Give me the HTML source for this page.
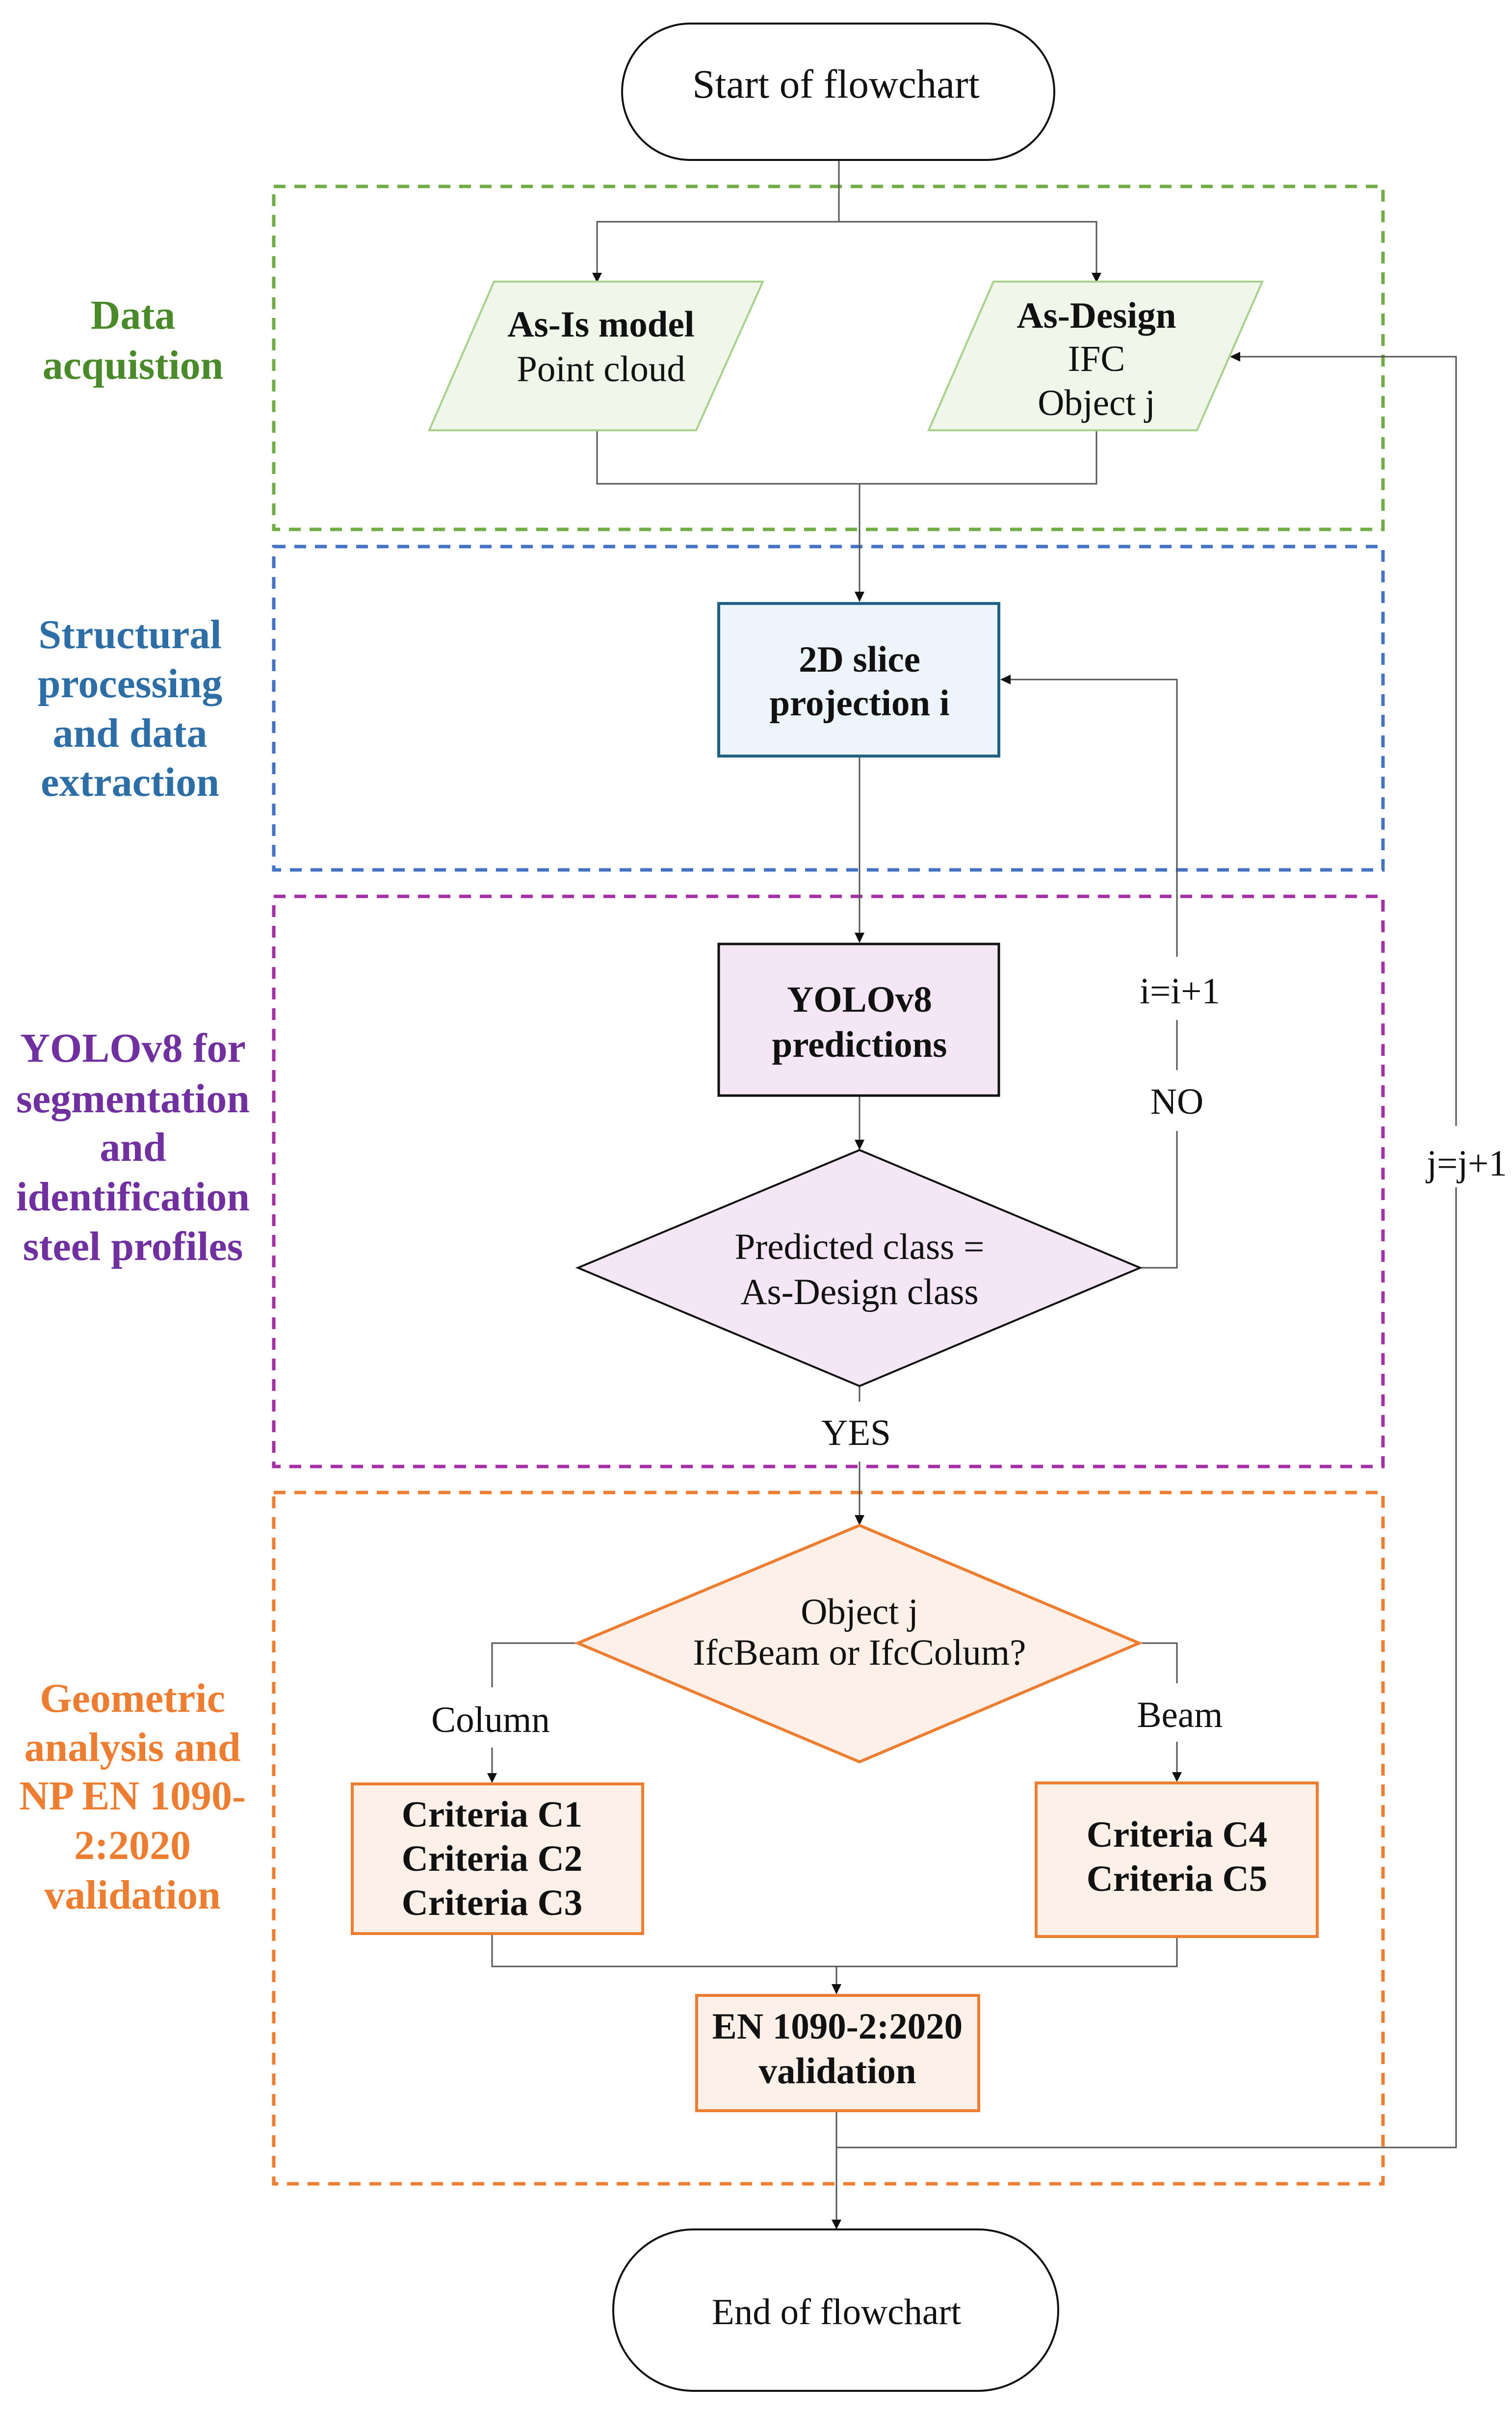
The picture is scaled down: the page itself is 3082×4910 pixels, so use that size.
<!DOCTYPE html>
<html><head><meta charset="utf-8"><style>
html,body{margin:0;padding:0;background:#fff}
svg{display:block}
text{font-family:"Liberation Serif",serif}
</style></head><body>
<svg width="3082" height="4910" viewBox="0 0 3082 4910" xmlns="http://www.w3.org/2000/svg">
<!-- dashed group boxes -->
<g fill="none" stroke-width="7" stroke-dasharray="24 18">
<rect x="558" y="380" width="2261" height="699" stroke="#70ad47"/>
<rect x="558" y="1114" width="2261" height="659" stroke="#4472c4"/>
<rect x="558" y="1827" width="2261" height="1162" stroke="#a530a5"/>
<rect x="558" y="3042" width="2261" height="1409" stroke="#ed7d31"/>
</g>

<!-- connectors -->
<g fill="none" stroke="#555" stroke-width="3">
<polyline points="1710,326 1710,452"/>
<polyline points="1217,560 1217,452 2235,452 2235,560"/>
<polyline points="1217,877 1217,986 2235,986 2235,877"/>
<polyline points="1752,986 1752,1212"/>
<polyline points="1752,1543 1752,1906"/>
<polyline points="1752,2234 1752,2328"/>
<polyline points="2324,2584 2399,2584 2399,2305"/>
<polyline points="2399,2181 2399,2079"/>
<polyline points="2399,1950 2399,1385 2055,1385"/>
<polyline points="1752,2825 1752,2857"/>
<polyline points="1752,2979 1752,3094"/>
<polyline points="1178,3349 1003,3349 1003,3439"/>
<polyline points="1003,3562 1003,3620"/>
<polyline points="2322,3349 2399,3349 2399,3431"/>
<polyline points="2399,3550 2399,3618"/>
<polyline points="1003,3942 1003,4008 2399,4008 2399,3949"/>
<polyline points="1705,4008 1705,4050"/>
<polyline points="1705,4303 1705,4530"/>
<polyline points="1705,4377 2968,4377 2968,2420"/>
<polyline points="2968,2295 2968,727 2522,727"/>
</g>
<g fill="#111">
<polygon points="1207,556 1227,556 1217,576"/>
<polygon points="2225,556 2245,556 2235,576"/>
<polygon points="1742,1206 1762,1206 1752,1227"/>
<polygon points="1742,1901 1762,1901 1752,1922"/>
<polygon points="1742,2323 1762,2323 1752,2344"/>
<polygon points="1742,3088 1762,3088 1752,3109"/>
<polygon points="993,3614 1013,3614 1003,3634"/>
<polygon points="2389,3612 2409,3612 2399,3632"/>
<polygon points="1695,4044 1715,4044 1705,4065"/>
<polygon points="1695,4524 1715,4524 1705,4544"/>
<polygon points="2060,1375 2060,1395 2039,1385"/>
<polygon points="2528,717 2528,737 2507,727"/>
</g>

<rect x="1268" y="48" width="881" height="278" rx="139" ry="139" fill="#fff" stroke="#111" stroke-width="4"/>
<rect x="1250" y="4544" width="907" height="329" rx="164" ry="164" fill="#fff" stroke="#111" stroke-width="4"/>

<polygon points="1007,574 1555,574 1419,877 875,877" fill="#f0f6ea" stroke="#a9d18e" stroke-width="4"/>
<polygon points="2025,574 2573,574 2440,877 1893,877" fill="#f0f6ea" stroke="#a9d18e" stroke-width="4"/>

<rect x="1465" y="1230" width="571" height="311" fill="#edf4fb" stroke="#1f6283" stroke-width="6"/>
<rect x="1465" y="1924" width="571" height="309" fill="#f5e6f5" stroke="#111" stroke-width="5"/>
<polygon points="1752,2344 2324,2584 1752,2825 1178,2584" fill="#f5e6f5" stroke="#111" stroke-width="4"/>
<polygon points="1752,3109 2322,3349 1752,3591 1178,3349" fill="#fdf0e8" stroke="#ed7d31" stroke-width="6"/>
<rect x="718" y="3636" width="592" height="305" fill="#fdf0e8" stroke="#ed7d31" stroke-width="6"/>
<rect x="2112" y="3634" width="573" height="313" fill="#fdf0e8" stroke="#ed7d31" stroke-width="6"/>
<rect x="1420" y="4067" width="575" height="235" fill="#fdf0e8" stroke="#ed7d31" stroke-width="6"/>

<g font-size="75" text-anchor="middle" fill="#111">
<text x="1704" y="199" font-size="83">Start of flowchart</text>
<text x="1705" y="4737">End of flowchart</text>
<text x="1225" y="686" font-weight="bold">As-Is model</text>
<text x="1225" y="777">Point cloud</text>
<text x="2235" y="668" font-weight="bold">As-Design</text>
<text x="2235" y="756">IFC</text>
<text x="2235" y="846">Object j</text>
<text x="1752" y="1369" font-weight="bold">2D slice</text>
<text x="1752" y="1458" font-weight="bold">projection i</text>
<text x="1752" y="2062" font-weight="bold">YOLOv8</text>
<text x="1752" y="2154" font-weight="bold">predictions</text>
<text x="1752" y="2566">Predicted class =</text>
<text x="1752" y="2658">As-Design class</text>
<text x="1752" y="3310">Object j</text>
<text x="1752" y="3393">IfcBeam or IfcColum?</text>
<text x="1003" y="3723" font-weight="bold">Criteria C1</text>
<text x="1003" y="3813" font-weight="bold">Criteria C2</text>
<text x="1003" y="3903" font-weight="bold">Criteria C3</text>
<text x="2399" y="3764" font-weight="bold">Criteria C4</text>
<text x="2399" y="3854" font-weight="bold">Criteria C5</text>
<text x="1707" y="4155" font-weight="bold">EN 1090-2:2020</text>
<text x="1707" y="4246" font-weight="bold">validation</text>
<text x="2405" y="2045">i=i+1</text>
<text x="2399" y="2270">NO</text>
<text x="2990" y="2396">j=j+1</text>
<text x="1745" y="2945">YES</text>
<text x="1000" y="3530">Column</text>
<text x="2405" y="3520">Beam</text>
</g>

<g font-size="84" font-weight="bold" text-anchor="middle">
<g fill="#4a8a2a">
<text x="271" y="670">Data</text>
<text x="271" y="772">acquistion</text>
</g>
<g fill="#2e6ea6">
<text x="265" y="1321">Structural</text>
<text x="265" y="1421">processing</text>
<text x="265" y="1522">and data</text>
<text x="265" y="1622">extraction</text>
</g>
<g fill="#7030a0">
<text x="271" y="2164">YOLOv8 for</text>
<text x="271" y="2267">segmentation</text>
<text x="271" y="2366">and</text>
<text x="271" y="2467">identification</text>
<text x="271" y="2568">steel profiles</text>
</g>
<g fill="#ed7d31">
<text x="270" y="3489">Geometric</text>
<text x="270" y="3589">analysis and</text>
<text x="270" y="3688">NP EN 1090-</text>
<text x="270" y="3789">2:2020</text>
<text x="270" y="3890">validation</text>
</g>
</g>
</svg>
</body></html>
